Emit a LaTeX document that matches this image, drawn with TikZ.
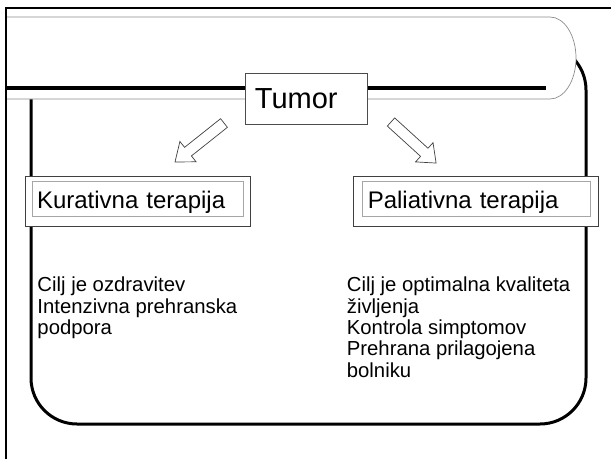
\documentclass[tikz,border=0pt]{standalone}
\usepackage{fontspec}
\setmainfont{Liberation Sans}
\begin{document}
\begin{tikzpicture}[x=1pt,y=-1pt,
  frame/.style={line width=2.5pt, black, line join=miter},
  bigbox/.style={line width=3pt, black, rounded corners=46pt},
  banner/.style={draw=black!45, line width=0.7pt},
  titleline/.style={line width=3.5pt, black},
  tumorbox/.style={draw=black!70, line width=0.8pt, fill=white, anchor=north west,
    minimum width=122pt, minimum height=51pt, text width=103pt, inner xsep=9.5pt,
    inner ysep=0pt, align=left, text height=19.5pt, text depth=0pt,
    font=\fontsize{29}{30}\selectfont},
  outerbox/.style={draw=black!75, line width=0.8pt, fill=white, anchor=north west, inner sep=0pt},
  innerbox/.style={draw=black!35, line width=0.7pt, anchor=north west, inner ysep=0pt,
    inner xsep=5pt, align=left, text height=20pt, text depth=0pt,
    font=\fontsize{24}{25}\selectfont},
  bodytext/.style={anchor=north west, inner sep=0pt, align=left,
    font=\fontsize{20.3}{21.4}\selectfont},
  blockarr/.style={draw=black!75, line width=0.7pt, fill=white, line join=miter}
]
\useasboundingbox (0,0) rectangle (611,459);
% big rounded box
\draw[bigbox] (31,44) rectangle (586,424);
% title banner
\path[fill=white] (4,17) -- (550,17) arc[start angle=-90,end angle=90,x radius=26,y radius=41] -- (4,99) -- cycle;
\draw[banner] (6,17) -- (550,17) arc[start angle=-90,end angle=90,x radius=26,y radius=41] -- (6,99);
\draw[titleline] (6,88) -- (546,88);
% Tumor
\node[tumorbox] (tumor) at (245,73) {Tumor};
% block arrows
\coordinate (lt) at (224,123);
\coordinate (rt) at (391,122);
\draw[blockarr, shift={(lt)}, rotate=218.5] (0,-5.5) -- (46,-5.5) -- (46,-13) -- (62.6,0) -- (46,13) -- (46,5.5) -- (0,5.5) -- cycle;
\draw[blockarr, shift={(rt)}, rotate=-42.3] (0,-5.5) -- (45,-5.5) -- (45,-13) -- (61,0) -- (45,13) -- (45,5.5) -- (0,5.5) -- cycle;
% left label box
\node[outerbox, minimum width=225pt, minimum height=50pt] (kout) at (25,176) {};
\node[innerbox, minimum width=211.6pt, minimum height=35.3pt, text width=201.6pt] (kin) at (31.7,180.7) {Kurativna terapija};
% right label box
\node[outerbox, minimum width=245pt, minimum height=50pt] (pout) at (353,176) {};
\node[innerbox, minimum width=228pt, minimum height=35.3pt, text width=218pt] (pin) at (362.4,180.7) {Paliativna terapija};
% body texts
\node[bodytext] (ltext) at (37.3,276.5) {\strut Cilj je ozdravitev\\Intenzivna prehranska\\podpora};
\node[bodytext] (rtext) at (346.7,276.5) {\strut Cilj je optimalna kvaliteta\\življenja\\Kontrola simptomov\\Prehrana prilagojena\\bolniku};
% outer frame
\draw[frame] (6,459) -- (6,8) -- (611,8);
\end{tikzpicture}
\end{document}
